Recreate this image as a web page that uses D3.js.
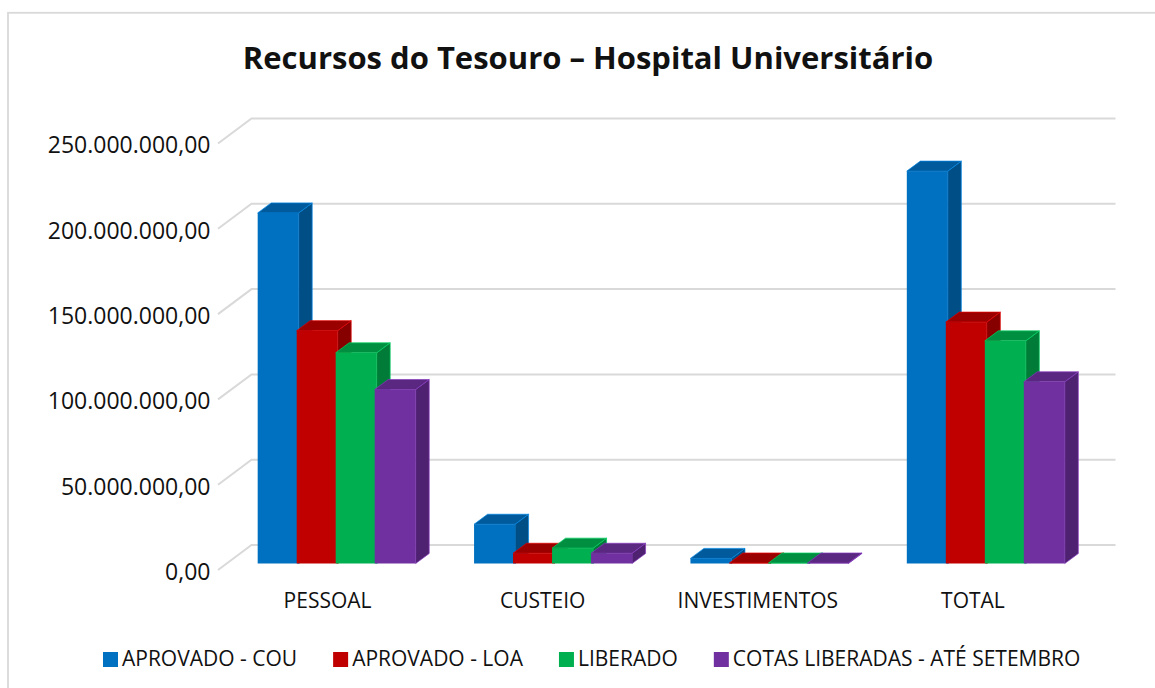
<!DOCTYPE html>
<html><head><meta charset="utf-8">
<style>html,body{margin:0;padding:0;background:#fff}svg{display:block}text{font-family:"Open Sans",sans-serif;fill:#111}</style>
<script src="https://cdn.jsdelivr.net/npm/d3@7/dist/d3.min.js"></script>
</head><body><svg id="c" width="1155" height="688"></svg>
<script>
const titleText = "Recursos do Tesouro – Hospital Universitário";
const categories = ["PESSOAL","CUSTEIO","INVESTIMENTOS","TOTAL"];
const seriesNames = ["APROVADO - COU","APROVADO - LOA","LIBERADO","COTAS LIBERADAS - ATÉ SETEMBRO"];
const seriesColors = ["#0070C0","#C00000","#00B050","#7030A0"];
const aprovadoCou = [205.5e6,23e6,3e6,230e6];
const aprovadoLoa = [136.5e6,6e6,0.3e6,141.5e6];
const liberado = [123.5e6,9e6,0.3e6,130.5e6];
const cotasLiberadas = [102e6,6e6,0.3e6,106.5e6];
const seriesValues = [aprovadoCou,aprovadoLoa,liberado,cotasLiberadas];
const yTicks = [0,50e6,100e6,150e6,200e6,250e6];

const svg = d3.select("#c");
const pt = d3.formatLocale({decimal:",",thousands:".",grouping:[3],currency:["R$",""]});
const fmt = pt.format(",.2f");

svg.append("rect").attr("x",8).attr("y",12.8).attr("width",1170).attr("height",690)
  .attr("fill","#fff").attr("stroke","#d9d9d9").attr("stroke-width",1.8);

svg.append("text").attr("x",588).attr("y",69).attr("text-anchor","middle")
  .attr("font-size",31).attr("font-weight",700).text(titleText);

const y = d3.scaleLinear().domain([0,250e6]).range([570,143.5]);
const x = d3.scaleBand().domain(categories).range([219.5,1085]);
const xLabel = d3.scaleBand().domain(categories).range([220,1080.5]);
const wallDx = 33.5, wallDy = -25;
const barDx = 13.5, barDy = -10, barShift = -6.5;
const barStep = 39.0, barW = 41;
const barOrigin = c => x(c) + x.bandwidth()/2 - 70;

const grid = svg.append("g").attr("fill","none").attr("stroke","#d9d9d9").attr("stroke-width",2);
yTicks.forEach(t=>{
  grid.append("path").attr("d",d3.line()([[218,y(t)],[218+wallDx,y(t)+wallDy],[1115.5,y(t)+wallDy]]));
});

const yAxis = d3.axisLeft(y).tickValues(yTicks).tickFormat(fmt).tickSize(0).tickPadding(0);
const gy = svg.append("g").attr("transform","translate(210.5,0)").call(yAxis);
gy.select(".domain").remove();
gy.selectAll("text").attr("font-size",23).attr("dy","0.41em");

const xAxis = d3.axisBottom(xLabel).tickSize(0).tickPadding(0);
const gx = svg.append("g").attr("transform","translate(0,593.5)").call(xAxis);
gx.select(".domain").remove();
gx.selectAll("text").attr("font-size",21).attr("dy","0.71em");

const bars = svg.append("g");
categories.forEach((c,ci)=>{
  seriesValues.forEach((vals,si)=>{
    const col = d3.color(seriesColors[si]);
    const x0 = barOrigin(c)+si*barStep, x1 = x0+barW;
    const yb = y(0)+barShift, yt = y(vals[ci])+barShift;
    const g = bars.append("g");
    const edge = col.brighter(0.5).formatHex();
    const poly=(pts,fill)=>g.append("polygon").attr("points",pts.map(p=>p.join(",")).join(" "))
      .attr("fill",fill).attr("stroke",edge).attr("stroke-width",0.7).attr("stroke-linejoin","round");
    poly([[x1,yb],[x1+barDx,yb+barDy],[x1+barDx,yt+barDy],[x1,yt]], col.darker(1.0).formatHex());
    poly([[x0,yt],[x0+barDx,yt+barDy],[x1+barDx,yt+barDy],[x1,yt]], col.darker(0.6).formatHex());
    g.append("rect").attr("x",x0).attr("y",yt).attr("width",barW).attr("height",yb-yt).attr("fill",col.formatHex());
  });
});

let lx = 103;
const lg = svg.append("g");
seriesNames.forEach((n,i)=>{
  lg.append("rect").attr("x",lx).attr("y",652).attr("width",15).attr("height",15).attr("fill",seriesColors[i]);
  const t = lg.append("text").attr("x",lx+19).attr("y",666).attr("font-size",21).text(n);
  lx += 19 + t.node().getComputedTextLength() + 36;
});
</script></body></html>
